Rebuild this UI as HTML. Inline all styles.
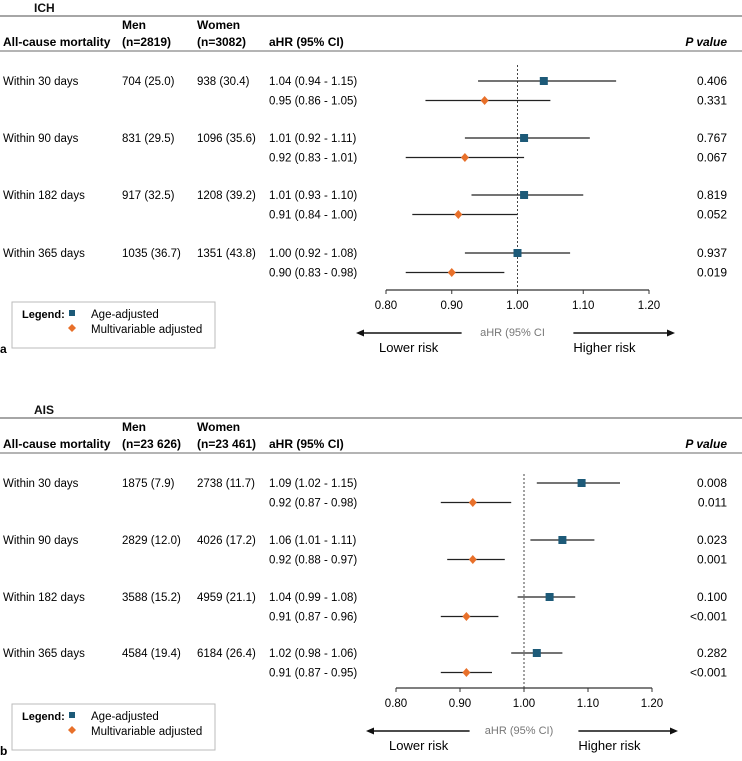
<!DOCTYPE html>
<html><head><meta charset="utf-8">
<style>
body{margin:0;background:#fff;}
svg{display:block;font-family:"Liberation Sans",Arial,sans-serif;}
</style></head>
<body>
<svg id="c" width="742" height="761" viewBox="0 0 742 761" xmlns="http://www.w3.org/2000/svg"></svg>
<script>
// ICH panel data
const ichLabels = ["Within 30 days","Within 90 days","Within 182 days","Within 365 days"];
const ichMen = ["704 (25.0)","831 (29.5)","917 (32.5)","1035 (36.7)"];
const ichWomen = ["938 (30.4)","1096 (35.6)","1208 (39.2)","1351 (43.8)"];
const ichAgeHR = [1.04,1.01,1.01,1.00];
const ichAgeLo = [0.94,0.92,0.93,0.92];
const ichAgeHi = [1.15,1.11,1.10,1.08];
const ichMvHR = [0.95,0.92,0.91,0.90];
const ichMvLo = [0.86,0.83,0.84,0.83];
const ichMvHi = [1.05,1.01,1.00,0.98];
const ichAgeP = ["0.406","0.767","0.819","0.937"];
const ichMvP = ["0.331","0.067","0.052","0.019"];
// AIS panel data
const aisLabels = ["Within 30 days","Within 90 days","Within 182 days","Within 365 days"];
const aisMen = ["1875 (7.9)","2829 (12.0)","3588 (15.2)","4584 (19.4)"];
const aisWomen = ["2738 (11.7)","4026 (17.2)","4959 (21.1)","6184 (26.4)"];
const aisAgeHR = [1.09,1.06,1.04,1.02];
const aisAgeLo = [1.02,1.01,0.99,0.98];
const aisAgeHi = [1.15,1.11,1.08,1.06];
const aisMvHR = [0.92,0.92,0.91,0.91];
const aisMvLo = [0.87,0.88,0.87,0.87];
const aisMvHi = [0.98,0.97,0.96,0.95];
const aisAgeP = ["0.008","0.023","0.100","0.282"];
const aisMvP = ["0.011","0.001","<0.001","<0.001"];
const ticks = [0.80,0.90,1.00,1.10,1.20];

const svg=document.getElementById('c');
const NS="http://www.w3.org/2000/svg";
function mk(tag,attrs,name,txt){
  const e=document.createElementNS(NS,tag);
  for(const k in attrs) e.setAttribute(k,attrs[k]);
  
  
  if(txt!==undefined) e.textContent=txt;
  svg.appendChild(e); return e;
}
function fmt(v){return v.toFixed(2);}
function panel(o){
  const x=v=>o.x0+(v-0.8)/0.4*(o.x1-o.x0);
  const T=o.top;
  mk('text',{x:34,y:T+12,'font-size':12,'font-weight':'bold',fill:'#111'},'panel-title',o.title);
  mk('line',{x1:0,y1:T+16,x2:742,y2:T+16,stroke:'#888','stroke-width':1.5},'header-top-rule');
  mk('text',{x:122,y:T+29,'font-size':12,'font-weight':'bold'},'men-header','Men');
  mk('text',{x:197,y:T+29,'font-size':12,'font-weight':'bold'},'women-header','Women');
  mk('text',{x:3,y:T+46,'font-size':12,'font-weight':'bold'},'outcome-header','All-cause mortality');
  mk('text',{x:122,y:T+46,'font-size':12,'font-weight':'bold'},'men-n-header',o.menN);
  mk('text',{x:197,y:T+46,'font-size':12,'font-weight':'bold'},'women-n-header',o.womenN);
  mk('text',{x:269,y:T+46,'font-size':12,'font-weight':'bold'},'ahr-header','aHR (95% CI)');
  mk('text',{x:727,y:T+46,'font-size':12,'font-weight':'bold','font-style':'italic','text-anchor':'end'},'p-value-header','P value');
  mk('line',{x1:0,y1:T+51,x2:742,y2:T+51,stroke:'#888','stroke-width':1.2},'header-bottom-rule');
  mk('line',{x1:x(1),y1:T+o.refTop,x2:x(1),y2:o.axisY,stroke:'#444','stroke-width':1,'stroke-dasharray':'2,2'},'reference-line');
  for(let i=0;i<o.labels.length;i++){
    const y1=o.rows[i], y2=y1+19.5;
    mk('text',{x:3,y:y1+4,'font-size':11.5},'row-label',o.labels[i]);
    mk('text',{x:122,y:y1+4,'font-size':11.5},'men-count',o.men[i]);
    mk('text',{x:197,y:y1+4,'font-size':11.5},'women-count',o.women[i]);
    mk('text',{x:269,y:y1+4,'font-size':11.5},'age-adjusted-hr',fmt(o.aHR[i])+' ('+fmt(o.aLo[i])+' - '+fmt(o.aHi[i])+')');
    mk('text',{x:269,y:y2+4,'font-size':11.5},'multivariable-hr',fmt(o.mHR[i])+' ('+fmt(o.mLo[i])+' - '+fmt(o.mHi[i])+')');
    mk('text',{x:727,y:y1+4,'font-size':12,'text-anchor':'end'},'age-adjusted-p',o.aP[i]);
    mk('text',{x:727,y:y2+4,'font-size':12,'text-anchor':'end'},'multivariable-p',o.mP[i]);
    mk('line',{x1:x(o.aLo[i]),y1:y1,x2:x(o.aHi[i]),y2:y1,stroke:'#222','stroke-width':1.3},'age-adjusted-ci');
    mk('rect',{x:x(o.aHR[i])-4,y:y1-4,width:8,height:8,fill:'#1d5a78'},'age-adjusted-point');
    mk('line',{x1:x(o.mLo[i]),y1:y2,x2:x(o.mHi[i]),y2:y2,stroke:'#222','stroke-width':1.3},'multivariable-ci');
    const cx=x(o.mHR[i]);
    mk('polygon',{points:`${cx},${y2-4.5} ${cx+4},${y2} ${cx},${y2+4.5} ${cx-4},${y2}`,fill:'#e8702a'},'multivariable-point');
  }
  const A=o.axisY;
  mk('line',{x1:x(0.8),y1:A,x2:x(1.2),y2:A,stroke:'#333','stroke-width':1.2},'x-axis-line');
  ticks.forEach(t=>{
    mk('line',{x1:x(t),y1:A,x2:x(t),y2:A+4,stroke:'#333','stroke-width':1},'x-tick');
    mk('text',{x:x(t),y:A+19,'font-size':11.5,'text-anchor':'middle'},'x-tick-label',t.toFixed(2));
  });
  mk('text',{x:x(1)-5,y:A+46,'font-size':11,'text-anchor':'middle',fill:'#777'},'x-axis-title','aHR (95% CI'+o.close);
  mk('line',{x1:x(0.8)-25,y1:A+43,x2:x(0.915),y2:A+43,stroke:'#111','stroke-width':1.5},'lower-risk-arrow');
  mk('polygon',{points:`${x(0.8)-30},${A+43} ${x(0.8)-22},${A+39.5} ${x(0.8)-22},${A+46.5}`,fill:'#111'},'lower-risk-arrowhead');
  mk('line',{x1:x(1.085),y1:A+43,x2:x(1.2)+20,y2:A+43,stroke:'#111','stroke-width':1.5},'higher-risk-arrow');
  mk('polygon',{points:`${x(1.2)+26},${A+43} ${x(1.2)+18},${A+39.5} ${x(1.2)+18},${A+46.5}`,fill:'#111'},'higher-risk-arrowhead');
  mk('text',{x:x(0.8)-7,y:A+62,'font-size':13},'lower-risk-label','Lower risk');
  mk('text',{x:x(1.085),y:A+62,'font-size':13},'higher-risk-label','Higher risk');
  const L=o.legY;
  mk('rect',{x:12,y:L,width:203,height:46,fill:'#fff',stroke:'#bbb','stroke-width':1},'legend-box');
  mk('text',{x:22,y:L+16,'font-size':11,'font-weight':'bold'},'legend-title','Legend:');
  mk('rect',{x:69,y:L+8,width:6,height:6,fill:'#1d5a78'},'legend-age-marker');
  mk('text',{x:91,y:L+16,'font-size':11.5},'legend-age-label','Age-adjusted');
  mk('polygon',{points:`72,${L+22} 76,${L+26} 72,${L+30} 68,${L+26}`,fill:'#e8702a'},'legend-mv-marker');
  mk('text',{x:91,y:L+31,'font-size':11.5},'legend-mv-label','Multivariable adjusted');
  mk('text',{x:0,y:L+51,'font-size':12,'font-weight':'bold'},'panel-letter',o.letter);
}
panel({top:0,title:'ICH',menN:'(n=2819)',womenN:'(n=3082)',labels:ichLabels,men:ichMen,women:ichWomen,
  aHR:ichAgeHR,aLo:ichAgeLo,aHi:ichAgeHi,mHR:ichMvHR,mLo:ichMvLo,mHi:ichMvHi,aP:ichAgeP,mP:ichMvP,
  rows:[81,138,195,253],x0:386,x1:649,axisY:290,refTop:65,legY:302,letter:'a',close:''});
panel({top:402,title:'AIS',menN:'(n=23 626)',womenN:'(n=23 461)',labels:aisLabels,men:aisMen,women:aisWomen,
  aHR:aisAgeHR,aLo:aisAgeLo,aHi:aisAgeHi,mHR:aisMvHR,mLo:aisMvLo,mHi:aisMvHi,aP:aisAgeP,mP:aisMvP,
  rows:[483,540,597,653],x0:396,x1:652,axisY:688,refTop:72,legY:704,letter:'b',close:')'});
</script>
</body></html>
